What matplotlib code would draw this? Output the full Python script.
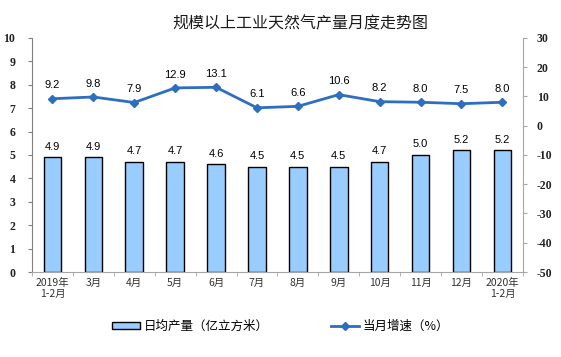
import numpy as np
import matplotlib.pyplot as plt
from matplotlib.ticker import FixedLocator

plt.rcParams['font.family'] = ['Noto Sans CJK SC', 'DejaVu Sans']
plt.rcParams['axes.unicode_minus'] = False

# data
months = ['2019年\n1-2月', '3月', '4月', '5月', '6月', '7月', '8月', '9月',
          '10月', '11月', '12月', '2020年\n1-2月']
daily_output = [4.9, 4.9, 4.7, 4.7, 4.6, 4.5, 4.5, 4.5, 4.7, 5.0, 5.2, 5.2]
growth = [9.2, 9.8, 7.9, 12.9, 13.1, 6.1, 6.6, 10.6, 8.2, 8.0, 7.5, 8.0]

bar_color = '#99CCFF'
line_color = '#2E6EBF'
axis_gray = '#A6A6A6'

fig = plt.figure(figsize=(5.61, 3.57), dpi=100)
ax = fig.add_axes([0.057, 0.238, 0.875, 0.656])
ax2 = ax.twinx()

x = np.arange(len(months))
bars = ax.bar(x, daily_output, width=0.43, color=bar_color, edgecolor='black',
              linewidth=1.0, label='日均产量（亿立方米）', zorder=2)
for xi, v in zip(x, daily_output):
    ax.annotate(f'{v:.1f}', (xi, v), xytext=(0, 4), textcoords='offset points',
                ha='center', va='bottom', fontsize=8, family='Liberation Sans')

ax2.plot(x, growth, color=line_color, lw=2, marker='D', ms=4,
         label='当月增速（%）', zorder=3)
for xi, v in zip(x, growth):
    ax2.annotate(f'{v:.1f}', (xi, v), xytext=(0, 6), textcoords='offset points',
                 ha='center', va='bottom', fontsize=8, family='Liberation Sans')

ax.set_xlim(-0.5, len(months) - 0.5)
ax.set_ylim(0, 10)
ax.set_yticks(range(0, 11))
ax2.set_ylim(-50, 30)
ax2.set_yticks(range(-50, 31, 10))

ax.set_xticks(x)
ax.set_xticklabels(months, fontsize=7.5, family=['Noto Sans CJK SC'], color='#333333')
ax.xaxis.set_minor_locator(FixedLocator(np.arange(-0.5, len(months), 1)))
ax.tick_params(axis='x', which='major', length=0, pad=4)
ax.tick_params(axis='x', which='minor', length=3, color=axis_gray)

for a in (ax, ax2):
    a.spines['top'].set_visible(False)
ax.spines['left'].set_color('#808080')
ax.spines['bottom'].set_color(axis_gray)
ax.spines['right'].set_visible(False)
ax2.spines['left'].set_visible(False)
ax2.spines['bottom'].set_visible(False)
ax2.spines['right'].set_color(axis_gray)

ax.tick_params(axis='y', length=3, color='#808080', labelsize=8.5, pad=9)
ax2.tick_params(axis='y', length=3, color=axis_gray, labelsize=8.5, pad=7)
for lbl in ax.get_yticklabels() + ax2.get_yticklabels():
    lbl.set_family('Liberation Serif')
    lbl.set_fontweight('bold')
    lbl.set_color('#222222')

fig.text(0.535, 0.933, '规模以上工业天然气产量月度走势图', ha='center', va='center',
         fontsize=11.5, color='#1a1a1a')

h1, l1 = ax.get_legend_handles_labels()
h2, l2 = ax2.get_legend_handles_labels()
fig.legend(h1 + h2, l1 + l2, loc='center', bbox_to_anchor=(0.5, 0.085), ncol=2,
           frameon=False, fontsize=9, handlelength=2.2, handleheight=0.45,
           columnspacing=5.0, handletextpad=0.3)

fig.savefig('out.png', dpi=100)
